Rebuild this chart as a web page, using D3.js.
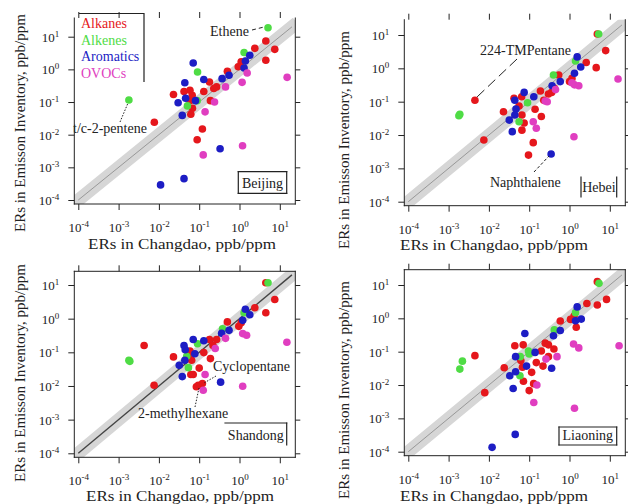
<!DOCTYPE html>
<html>
<head>
<meta charset="utf-8">
<script src="https://cdn.jsdelivr.net/npm/d3@7"></script>
<style>
  body { margin: 0; background: #fff; }
  svg { display: block; font-family: "Liberation Serif", "Times New Roman", serif; }
</style>
</head>
<body>
<svg id="chart" width="628" height="504"></svg>
<script>
const categories = ["Alkanes", "Alkenes", "Aromatics", "OVOCs"];
const catColors = ["#e5171c", "#4fdc45", "#1d1dc4", "#e03ec0"];
const regions = ["Beijing", "Hebei", "Shandong", "Liaoning"];
const tickValues = [1e-4, 1e-3, 1e-2, 1e-1, 1, 10];
const xTitle = "ERs in Changdao, ppb/ppm";
const yTitle = "ERs in Emisson Inventory, ppb/ppm";
const annotationLabels = [
  ["Ethene", "t/c-2-pentene"],
  ["224-TMPentane", "Naphthalene"],
  ["Cyclopentane", "2-methylhexane"],
  []
];

// [ER Changdao, ER inventory, category index]
const beijingPoints = [
  [4.5, 7.4, 0], [7.5, 4.1, 0], [4.5, 1.9, 0], [2.4, 4.4, 0], [1.1, 1.7, 0], [0.93, 1.2, 0],
  [0.50, 0.87, 0], [0.18, 0.41, 0], [0.27, 0.29, 0], [0.23, 0.26, 0], [0.13, 0.21, 0], [0.19, 0.11, 0],
  [0.059, 0.23, 0], [0.042, 0.21, 0], [0.023, 0.17, 0], [0.067, 0.16, 0], [0.059, 0.11, 0],
  [0.068, 0.064, 0], [0.062, 0.042, 0], [0.0077, 0.024, 0], [0.12, 0.015, 0], [0.089, 0.0070, 0],
  [5.1, 18.7, 1], [1.3, 3.3, 1], [0.091, 0.83, 1], [0.0018, 0.115, 1], [0.051, 0.076, 1], [0.089, 0.11, 1],
  [0.071, 1.56, 2], [0.044, 0.39, 2], [0.13, 0.49, 2], [0.37, 0.52, 2], [0.55, 0.66, 2], [1.8, 2.7, 2],
  [1.4, 1.8, 2], [1.3, 1.1, 2], [0.046, 0.13, 2], [0.030, 0.095, 2], [0.081, 0.11, 2], [0.038, 0.039, 2],
  [0.33, 0.0037, 2], [0.042, 0.00045, 2], [0.011, 0.00029, 2],
  [15.2, 0.57, 3], [1.55, 0.77, 3], [1.16, 0.40, 3], [0.45, 0.29, 3], [0.24, 0.10, 3], [0.14, 0.050, 3],
  [1.19, 0.0046, 3], [0.126, 0.0024, 3]
];
const hebeiPoints = [
  [4.9, 10.7, 0], [7.9, 3.4, 0], [4.6, 1.05, 0], [2.6, 1.5, 0], [0.54, 0.63, 0], [1.0, 0.40, 0],
  [0.42, 0.25, 0], [0.30, 0.17, 0], [0.36, 0.19, 0], [0.19, 0.21, 0], [0.23, 0.11, 0], [0.14, 0.059, 0],
  [0.20, 0.036, 0], [0.065, 0.14, 0], [0.042, 0.126, 0], [0.056, 0.074, 0], [0.066, 0.040, 0],
  [0.075, 0.023, 0], [0.023, 0.050, 0], [0.066, 0.014, 0], [0.126, 0.0059, 0], [0.096, 0.0025, 0],
  [0.0045, 0.11, 0], [0.0075, 0.0071, 0], [1.15, 0.5, 0],
  [5.3, 10.7, 1], [1.41, 1.66, 1], [0.40, 0.63, 1], [0.091, 0.093, 1], [0.056, 0.025, 1],
  [0.0019, 0.042, 1], [0.0018, 0.038, 1],
  [1.55, 2.2, 2], [1.9, 1.1, 2], [1.33, 0.71, 2], [0.59, 0.40, 2], [0.37, 0.30, 2], [0.13, 0.14, 2],
  [0.075, 0.19, 2], [0.044, 0.11, 2], [0.047, 0.060, 2], [0.044, 0.040, 2], [0.032, 0.028, 2],
  [0.038, 0.0126, 2], [0.35, 0.0027, 2],
  [16, 0.48, 3], [1.33, 0.32, 3], [1.7, 0.30, 3], [1.15, 0.37, 3], [0.45, 0.23, 3], [0.25, 0.105, 3],
  [0.28, 0.10, 3], [0.126, 0.025, 3], [0.15, 0.016, 3], [1.29, 0.0089, 3]
];
const shandongPoints = [
  [4.5, 11.7, 0], [7.5, 3.7, 0], [4.5, 1.5, 0], [2.4, 2.1, 0], [0.96, 0.59, 0], [1.1, 0.75, 0],
  [0.50, 0.80, 0], [0.27, 0.24, 0], [0.18, 0.24, 0], [0.22, 0.16, 0], [0.13, 0.098, 0], [0.19, 0.065, 0],
  [0.059, 0.11, 0], [0.065, 0.058, 0], [0.023, 0.073, 0], [0.0043, 0.16, 0], [0.0076, 0.0105, 0],
  [0.10, 0.034, 0], [0.071, 0.022, 0], [0.062, 0.022, 0], [0.095, 0.0105, 0], [0.12, 0.0118, 0],
  [0.085, 0.0095, 0], [0.06, 0.09, 0],
  [5.1, 11.7, 1], [1.3, 1.5, 1], [0.38, 0.50, 1], [0.091, 0.18, 1], [0.049, 0.076, 1], [0.054, 0.035, 1],
  [0.0018, 0.058, 1], [0.0019, 0.054, 1],
  [1.4, 1.9, 2], [1.8, 1.3, 2], [1.2, 0.89, 2], [0.55, 0.45, 2], [0.36, 0.37, 2], [0.13, 0.22, 2],
  [0.071, 0.24, 2], [0.042, 0.16, 2], [0.078, 0.091, 2], [0.044, 0.058, 2], [0.032, 0.041, 2],
  [0.038, 0.019, 2], [0.34, 0.013, 2], [0.045, 0.12, 2],
  [15, 0.20, 3], [1.2, 0.36, 3], [1.5, 0.32, 3], [0.45, 0.26, 3], [0.25, 0.13, 3], [0.14, 0.022, 3],
  [1.2, 0.0098, 3], [0.126, 0.0075, 3]
];
const liaoningPoints = [
  [4.9, 12.6, 0], [8.3, 3.7, 0], [4.9, 2.5, 0], [2.7, 2.8, 0], [1.3, 1.17, 0], [1.06, 0.93, 0],
  [1.47, 0.54, 0], [0.59, 0.83, 0], [0.25, 0.18, 0], [0.30, 0.16, 0], [0.41, 0.12, 0], [0.20, 0.105, 0],
  [0.15, 0.047, 0], [0.22, 0.037, 0], [0.30, 0.071, 0], [0.071, 0.16, 0], [0.044, 0.15, 0],
  [0.062, 0.054, 0], [0.068, 0.034, 0], [0.024, 0.033, 0], [0.0045, 0.076, 0], [0.115, 0.024, 0],
  [0.072, 0.013, 0], [0.129, 0.011, 0], [0.10, 0.0068, 0], [0.0079, 0.0059, 0],
  [5.4, 11.2, 1], [1.41, 1.48, 1], [0.42, 0.45, 1], [0.096, 0.105, 1], [0.060, 0.071, 1],
  [0.059, 0.019, 1], [0.0022, 0.052, 1], [0.0019, 0.030, 1], [0.1, 0.085, 1],
  [1.55, 2.2, 2], [1.96, 0.95, 2], [1.41, 0.85, 2], [0.59, 0.43, 2], [0.40, 0.30, 2], [0.078, 0.35, 2],
  [0.14, 0.095, 2], [0.046, 0.071, 2], [0.086, 0.037, 2], [0.046, 0.025, 2], [0.033, 0.019, 2],
  [0.040, 0.0079, 2], [0.36, 0.032, 2], [0.045, 0.00033, 2], [0.012, 0.000135, 2],
  [17, 0.15, 3], [1.26, 0.17, 3], [1.7, 0.13, 3], [0.49, 0.071, 3], [0.26, 0.060, 3], [0.155, 0.010, 3],
  [0.13, 0.0030, 3], [1.33, 0.0020, 3]
];
const panelPoints = [beijingPoints, hebeiPoints, shandongPoints, liaoningPoints];

// layout for each panel (pixel positions of the 1e-4 corner and 1e1 on y)
const layout = [
  { x0: 78.3, y0: 200, y1: 36.7, xt: [182, 249], yt: [25, 123], frame: "lrb",
    box: [238.3, 171.7, 286.7, 193.3, "ltrb"],
    ann: [{ x: 210, y: 36, line: [[252, 30], [264, 27]], dash: "4,3" },
          { x: 73, y: 133, line: [[120, 122], [128, 103]], dash: "1.5,1.5" }] },
  { x0: 408.3, y0: 201.7, y1: 35, xt: [494, 250], yt: [349, 140], frame: "lrb",
    box: [581, 177, 616.7, 197, "lr"],
    ann: [{ x: 480, y: 55, line: [[517, 59], [477, 97]], dash: "10,5" },
          { x: 490, y: 187, line: [[534, 172], [549, 156]], dash: "3,2" }] },
  { x0: 78.3, y0: 453.3, y1: 285, xt: [180, 500.5], yt: [25, 373], frame: "ltrb",
    box: [225, 423, 286.7, 445, "tr"],
    ann: [{ x: 213, y: 371, line: [[216, 376], [204, 383]], dash: "1.5,1.5" },
          { x: 138, y: 418, line: [[195, 407], [199, 388]], dash: "1.5,1.5" }] },
  { x0: 408.3, y0: 451.7, y1: 285, xt: [494, 500.5], yt: [349, 390], frame: "ltrb",
    box: [559, 427, 616.7, 445, "ltrb"], ann: [] }
];

const svg = d3.select("#chart");
const defs = svg.append("defs");

function expLabel(sel) {
  sel.each(function (d) {
    const t = d3.select(this);
    t.text("");
    t.append("tspan").text("10");
    t.append("tspan").attr("dy", "-0.55em").attr("font-size", "9px")
      .text(Math.round(Math.log10(d)));
  });
}

function sideLines(g, x0, y0, x1, y1, sides, width) {
  const edges = { l: [x0, y0, x0, y1], t: [x0, y0, x1, y0], r: [x1, y0, x1, y1], b: [x0, y1, x1, y1] };
  sides.split("").forEach(s => {
    const e = edges[s];
    g.append("line").attr("x1", e[0]).attr("y1", e[1]).attr("x2", e[2]).attr("y2", e[3])
      .attr("stroke", "#222").attr("stroke-width", width).attr("stroke-linecap", "square");
  });
}

layout.forEach((L, i) => {
  const x = d3.scaleLog().domain([1e-4, 10]).range([L.x0, L.x0 + 201.5]);
  const y = d3.scaleLog().domain([1e-4, 10]).range([L.y0, L.y1]);
  const left = L.x0 - 4, right = L.x0 + 217, top = L.y0 - 182, bottom = L.y0 + 4;
  const g = svg.append("g");

  defs.append("clipPath").attr("id", "clip" + i)
    .append("rect").attr("x", left).attr("y", top)
    .attr("width", right - left).attr("height", bottom - top);

  const plot = g.append("g").attr("clip-path", `url(#clip${i})`);
  const diag = [[1e-4, 1e-4], [20, 20]];
  const line = d3.line().x(d => x(d[0])).y(d => y(d[1]));

  // 1:1 band and line
  plot.append("path").attr("d", line(diag))
    .attr("stroke", "#d6d6d6").attr("stroke-width", 13)
    .attr("stroke-linecap", "square").attr("fill", "none");
  plot.append("path").attr("d", line(diag))
    .attr("stroke", i === 2 ? "#444" : "#888")
    .attr("stroke-width", i === 2 ? 1.4 : 0.8).attr("fill", "none");

  plot.selectAll("circle")
    .data(panelPoints[i])
    .join("circle")
    .attr("cx", d => x(d[0]))
    .attr("cy", d => y(d[1]))
    .attr("r", 3.8)
    .attr("fill", d => catColors[d[2]]);

  // axes
  const bAxis = d3.axisBottom(x).tickValues(tickValues).tickSize(6).tickSizeOuter(0);
  const lAxis = d3.axisLeft(y).tickValues(tickValues).tickSize(6).tickSizeOuter(0);
  const tAxis = d3.axisTop(x).tickValues(tickValues).tickSize(6).tickSizeOuter(0).tickFormat("");
  const rAxis = d3.axisRight(y).tickValues(tickValues).tickSize(5).tickSizeOuter(0).tickFormat("");

  const gb = g.append("g").attr("transform", `translate(0,${bottom})`).call(bAxis);
  gb.selectAll("text").attr("y", 28).attr("dy", null).call(expLabel);
  const gl = g.append("g").attr("transform", `translate(${left},0)`).call(lAxis);
  gl.selectAll("text").attr("x", -15).attr("dy", "0.35em").call(expLabel);
  const gt = g.append("g").attr("transform", `translate(0,${top})`).call(tAxis);
  const gr = g.append("g").attr("transform", `translate(${right},0)`).call(rAxis);

  [gb, gl, gt, gr].forEach(a => {
    a.select(".domain").remove();
    a.attr("font-family", null).attr("font-size", 13);
    a.selectAll("line").attr("stroke", "#222");
    a.selectAll("text").attr("fill", "#222");
  });

  // frame
  sideLines(g, left, top, right, bottom, L.frame, 1);

  // titles
  g.append("text").attr("x", L.xt[0]).attr("y", L.xt[1])
    .attr("text-anchor", "middle").attr("font-size", 15).attr("fill", "#222")
    .attr("textLength", 188).attr("lengthAdjust", "spacingAndGlyphs").text(xTitle);
  g.append("text").attr("transform", `translate(${L.yt[0]},${L.yt[1]}) rotate(-90)`)
    .attr("text-anchor", "middle").attr("font-size", 15).attr("fill", "#222").text(yTitle);

  // region box
  const [bx0, by0, bx1, by1, sides] = L.box;
  sideLines(g, bx0, by0, bx1, by1, sides, 1.2);
  g.append("text").attr("x", (bx0 + bx1) / 2).attr("y", by1 - 5)
    .attr("text-anchor", "middle").attr("font-size", 14).attr("fill", "#222").text(regions[i]);

  // annotations
  L.ann.forEach((a, k) => {
    g.append("path").attr("d", d3.line()(a.line))
      .attr("stroke", "#222").attr("stroke-width", 1).attr("stroke-dasharray", a.dash).attr("fill", "none");
    g.append("text").attr("x", a.x).attr("y", a.y).attr("font-size", 14).attr("fill", "#222")
      .text(annotationLabels[i][k]);
  });
});

// legend (Beijing panel)
const legend = svg.append("g");
legend.append("path").attr("d", "M79,13.5H144V82")
  .attr("fill", "none").attr("stroke", "#222").attr("stroke-width", 1.2);
legend.selectAll("text")
  .data(categories)
  .join("text")
  .attr("x", 81)
  .attr("y", (d, k) => 28 + k * 16.7)
  .attr("font-size", 14)
  .attr("fill", (d, k) => catColors[k])
  .text(d => d);
</script>
</body>
</html>
